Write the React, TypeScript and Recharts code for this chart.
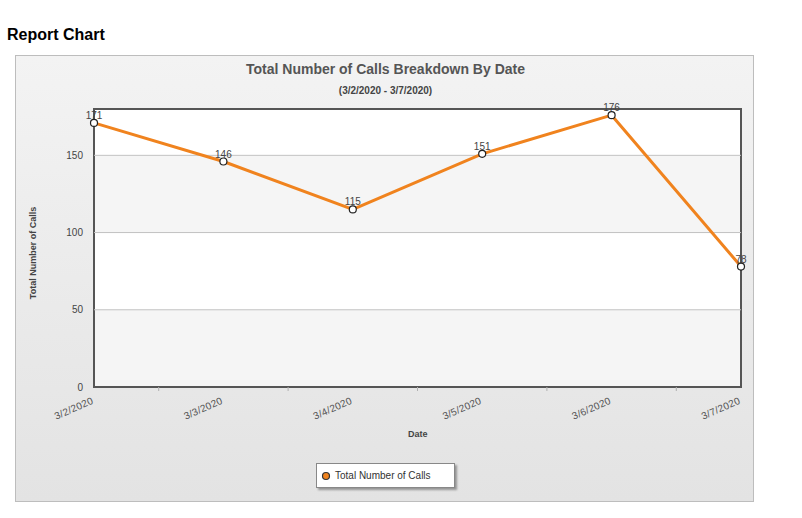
import React from "react";
import {
  LineChart,
  Line,
  XAxis,
  YAxis,
  ReferenceArea,
  ReferenceLine,
  LabelList,
} from "recharts";

// --- Data ---

const DATES = ["3/2/2020", "3/3/2020", "3/4/2020", "3/5/2020", "3/6/2020", "3/7/2020"];
const CALLS = [171, 146, 115, 151, 176, 78];
const Y_TICKS = [0, 50, 100, 150];
const GRID_VALUES = [50, 100, 150];
const X_TICKS = [0, 0.5, 1, 1.5, 2, 2.5, 3, 3.5, 4, 4.5, 5];

const SERIES_NAME = "Total Number of Calls";
const TITLE = "Total Number of Calls Breakdown By Date";
const SUBTITLE = "(3/2/2020 - 3/7/2020)";

// --- Style ---

const FONT = "'Liberation Sans', Arial, sans-serif";
const LINE_COLOR = "#F0831E";
const FRAME_COLOR = "#555555";
const BAND_COLOR = "#F5F5F5";

const PANEL_W = 739;
const PANEL_H = 447;

const data = DATES.map((date, i) => ({ idx: i, date, calls: CALLS[i] }));

// integer ticks carry the date, half steps only get a small mark
function DateTick(props: any) {
  const { x, y, payload } = props;
  const v = payload.value as number;
  if (!Number.isInteger(v)) {
    return <line x1={x} x2={x} y1={y - 8} y2={y - 4} stroke="#B0B0B0" strokeWidth={1} />;
  }
  return (
    <g transform={`translate(${x},${y + 8})`}>
      <text
        textAnchor="end"
        transform="rotate(-24)"
        fontSize={10}
        fill="#555"
        fontFamily={FONT}
        letterSpacing={0.3}
      >
        {DATES[v]}
      </text>
    </g>
  );
}

export default function App() {
  return (
    <div
      style={{
        position: "absolute",
        left: 0,
        top: 0,
        width: 802,
        height: 518,
        background: "#fff",
        fontFamily: FONT,
      }}
    >
      <div
        style={{
          position: "absolute",
          left: 7,
          top: 26,
          fontSize: 16,
          fontWeight: "bold",
          color: "#000",
        }}
      >
        Report Chart
      </div>

      <div
        style={{
          position: "absolute",
          left: 15,
          top: 55,
          width: PANEL_W,
          height: PANEL_H,
          boxSizing: "border-box",
          border: "1px solid #BDBDBD",
          background: "linear-gradient(#F3F3F3, #E3E3E3)",
        }}
      >
        <div
          style={{
            position: "absolute",
            left: 0,
            width: PANEL_W,
            top: 5,
            textAlign: "center",
            fontSize: 14,
            fontWeight: "bold",
            color: "#555",
          }}
        >
          {TITLE}
        </div>
        <div
          style={{
            position: "absolute",
            left: 0,
            width: PANEL_W,
            top: 29,
            textAlign: "center",
            fontSize: 10,
            fontWeight: "bold",
            color: "#444",
          }}
        >
          {SUBTITLE}
        </div>

        <div style={{ position: "absolute", left: -1, top: -1 }}>
          <LineChart
            width={PANEL_W}
            height={PANEL_H}
            data={data}
            margin={{ top: 54, right: 13, left: 0, bottom: 0 }}
          >
            <ReferenceArea y1={0} y2={180} fill="#FFFFFF" fillOpacity={1} stroke="none" />
            <ReferenceArea y1={0} y2={50} fill={BAND_COLOR} fillOpacity={1} stroke="none" />
            <ReferenceArea y1={100} y2={150} fill={BAND_COLOR} fillOpacity={1} stroke="none" />
            {GRID_VALUES.map((v) => (
              <ReferenceLine key={v} y={v} stroke="#C2C2C2" strokeWidth={1} />
            ))}
            <ReferenceArea
              y1={0}
              y2={180}
              fill="none"
              stroke={FRAME_COLOR}
              strokeWidth={2}
              strokeOpacity={1}
            />
            <XAxis
              dataKey="idx"
              type="number"
              domain={[0, 5]}
              ticks={X_TICKS}
              interval={0}
              axisLine={false}
              tickLine={false}
              height={115}
              tick={<DateTick />}
            />
            <YAxis
              domain={[0, 180]}
              ticks={Y_TICKS}
              width={79}
              axisLine={false}
              tickLine={false}
              tickMargin={5}
              tick={{ fontSize: 10, fill: "#444", fontFamily: FONT }}
            />
            <Line
              dataKey="calls"
              name={SERIES_NAME}
              stroke={LINE_COLOR}
              strokeWidth={3}
              isAnimationActive={false}
              dot={{ r: 3.5, fill: "#fff", stroke: "#222", strokeWidth: 1.2 }}
              activeDot={false}
            >
              <LabelList
                dataKey="calls"
                position="top"
                offset={4}
                fontSize={10}
                fill="#444"
                fontFamily={FONT}
              />
            </Line>
          </LineChart>
        </div>

        <div
          style={{
            position: "absolute",
            left: 2,
            top: 197,
            width: 30,
            height: 0,
          }}
        >
          <div
            style={{
              position: "absolute",
              left: 15,
              top: 0,
              transform: "translate(-50%, -50%) rotate(-90deg)",
              whiteSpace: "nowrap",
              fontSize: 9,
              fontWeight: "bold",
              color: "#444",
            }}
          >
            {SERIES_NAME}
          </div>
        </div>

        <div
          style={{
            position: "absolute",
            left: 392,
            top: 373,
            fontSize: 9,
            fontWeight: "bold",
            color: "#444",
          }}
        >
          Date
        </div>

        <div
          style={{
            position: "absolute",
            left: 300,
            top: 407,
            width: 139,
            height: 25,
            boxSizing: "border-box",
            background: "#fff",
            border: "1px solid #888",
            boxShadow: "2px 2px 2px rgba(0,0,0,0.35)",
            display: "flex",
            alignItems: "center",
            paddingLeft: 3,
          }}
        >
          <svg width={12} height={12}>
            <circle cx={6} cy={6} r={3.5} fill={LINE_COLOR} stroke="#333" strokeWidth={1.2} />
          </svg>
          <span style={{ fontSize: 10, color: "#333", marginLeft: 3 }}>{SERIES_NAME}</span>
        </div>
      </div>
    </div>
  );
}
